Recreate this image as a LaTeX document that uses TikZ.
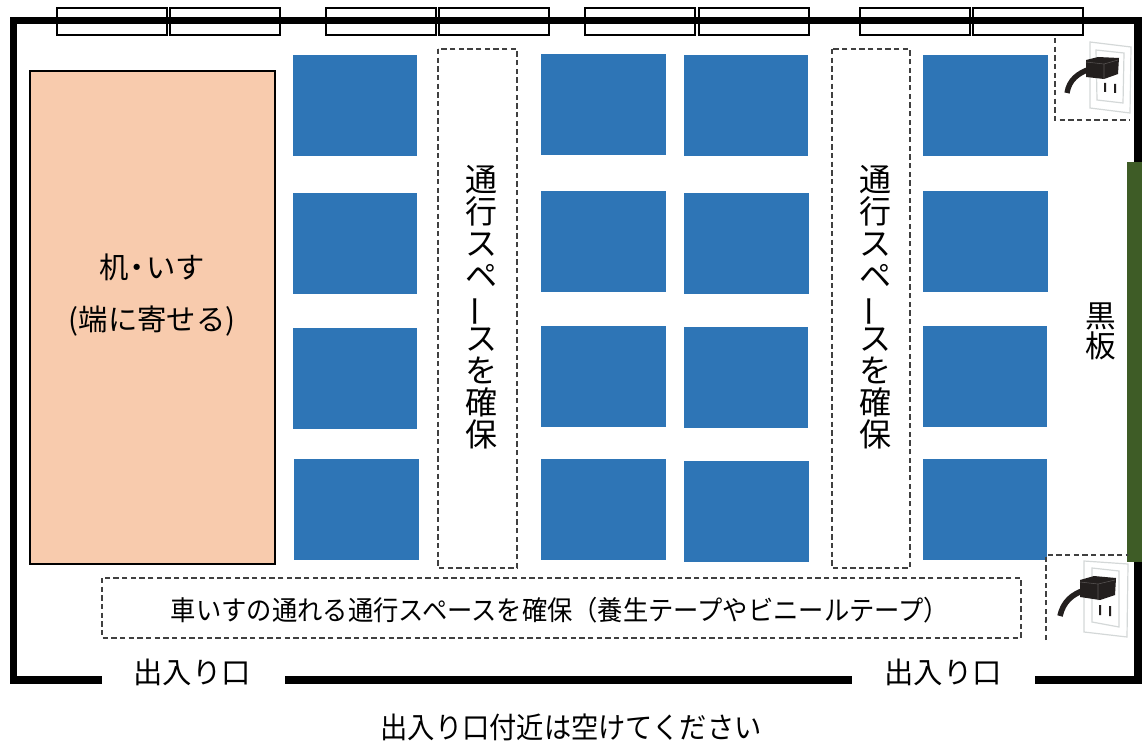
\documentclass[tikz,border=0pt]{standalone}
\usepackage{fontspec}
\setmainfont{Noto Sans CJK JP}
\newfontfamily\jpnarrow[FakeStretch=0.93]{Noto Sans CJK JP}
\newcommand{\sz}[1]{\fontsize{#1}{#1}\selectfont}
\newcommand{\vc}[1]{\smash{#1}}
\newcommand{\vbar}{\rotatebox[origin=c]{90}{ー}}
\newcommand{\vtext}{\begin{tabular}{@{}c@{}}\vc{通}\\\vc{行}\\\vc{ス}\\\vc{ペ}\\\vc{\vbar}\\\vc{ス}\\\vc{を}\\\vc{確}\\\vc{保}\end{tabular}}
\tikzset{
  wall/.style={line width=5.6pt,black,line cap=butt,line join=miter},
  windowbox/.style={draw=black,line width=0.8pt,fill=white},
  desk/.style={fill=deskblue,draw=none},
  zone/.style={draw=dashgray,line width=0.8pt,dash pattern=on 4pt off 2.5pt},
  lbl/.style={inner sep=0pt,font=\sz{22}},
  vlbl/.style={inner sep=0pt,font=\fontsize{24}{23.9}\selectfont},
  plate/.style={draw=plategray,line width=0.9pt,fill=white},
  plug/.style={fill=plugdark,draw=none},
  plugedge/.style={draw=plugedgegray,line width=0.4pt},
}
\definecolor{deskblue}{HTML}{2E75B6}
\definecolor{dashgray}{HTML}{404040}
\definecolor{plategray}{HTML}{D4D8D8}
\definecolor{plugdark}{HTML}{231F1E}
\definecolor{plugedgegray}{HTML}{5A5655}
\definecolor{boardgreen}{HTML}{3E5C26}
\definecolor{tableorange}{HTML}{F8CBAD}
\begin{document}
\begin{tikzpicture}[x=0.75pt,y=-0.75pt]
\useasboundingbox (0,0) rectangle (1142,742);
% windows
\foreach \a/\b in {57/167,170/280,326/436,439/549,585/695,699/809,860/970,973/1083}
  \draw[windowbox] (\a,8) rectangle (\b,35);
% walls
\draw[wall] (102,680) -- (13.5,680) -- (13.5,20.5) -- (1138,20.5) -- (1138,680) -- (1035,680);
\draw[wall] (285,680) -- (852,680);
% blackboard
\fill[boardgreen] (1127,162) rectangle (1142,562);
% desks
\foreach \xa/\xb/\ya/\yb in {
 293/417/55/156, 293/417/193/294, 293/417/328/429, 294/419/459/560,
 541/666/54/155, 541/666/191/292, 541/666/326/427, 541/666/459/560,
 684/808/55/156, 684/809/193/294, 684/808/327/428, 684/809/461/562,
 923/1048/55/156, 923/1048/191/292, 923/1047/326/427, 923/1047/459/560}
  \fill[desk] (\xa,\ya) rectangle (\xb,\yb);
% stacked tables
\draw[fill=tableorange,line width=1.2pt] (30,71) rectangle (275,564);
% zones
\draw[zone] (438,49) rectangle (517,568);
\draw[zone] (832,49) rectangle (910,568);
\draw[zone] (102,578) rectangle (1021,638);
\draw[zone] (1055,38) -- (1055,120) -- (1130,120);
\draw[zone] (1046,640) -- (1046,555) -- (1128,555);
% outlet top
\draw[plate] (1090,42) -- (1131,47) -- (1130,113) -- (1090,108) -- cycle;
\draw[plate] (1096,50) -- (1124,53) -- (1123,103) -- (1097,100) -- cycle;
\fill[plugdark] (1104,83) rectangle (1106,92) (1114,84) rectangle (1116,93);
\draw[plugdark,line width=4pt] (1090,69) .. controls (1078,73) and (1069,80) .. (1067,93);
\fill[plug] (1086,60) -- (1098,57) -- (1119,58) -- (1118,74) -- (1104,79) -- (1086,77) -- cycle;
\draw[plugedge] (1086,62) -- (1104,64) -- (1118,60) (1104,64) -- (1104,79);
% outlet bottom
\draw[plate] (1084,561) -- (1128,564) -- (1127,637) -- (1084,632) -- cycle;
\draw[plate] (1092,568) -- (1119,571) -- (1119,627) -- (1092,622) -- cycle;
\fill[plugdark] (1099,605) rectangle (1101,615) (1109,606) rectangle (1111,616);
\draw[plugdark,line width=4.2pt] (1085,590) .. controls (1072,594) and (1063,602) .. (1060,616);
\fill[plug] (1080,580) -- (1094,576) -- (1116,578) -- (1115,595) -- (1100,600) -- (1080,597) -- cycle;
\draw[plugedge] (1080,582) -- (1098,584) -- (1115,580) (1098,584) -- (1098,600);
% labels
\node[lbl] (tablea) at (152,267) {机\kern-4.5pt・\kern-4.5pt いす};
\node[lbl] (tableb) at (152,321) {(端に寄せる)};
\node[vlbl] (aislea) at (481,312.5) {\vtext};
\node[vlbl] (aisleb) at (875,312.5) {\vtext};
\node[lbl,font=\jpnarrow\sz{20.4}] (wheel) at (560,610) {車いすの通れる通行スペースを確保（養生テープやビニールテープ）};
\node[lbl] (doora) at (192,672) {出入り口};
\node[lbl] (doorb) at (943,672) {出入り口};
\node[vlbl,font=\fontsize{23}{22.5}\selectfont] (board) at (1101,336) {\begin{tabular}{@{}c@{}}\vc{黒}\\\vc{板}\end{tabular}};
\node[lbl,font=\jpnarrow\sz{22}] (note) at (571,727) {出入り口付近は空けてください};
\end{tikzpicture}
\end{document}
